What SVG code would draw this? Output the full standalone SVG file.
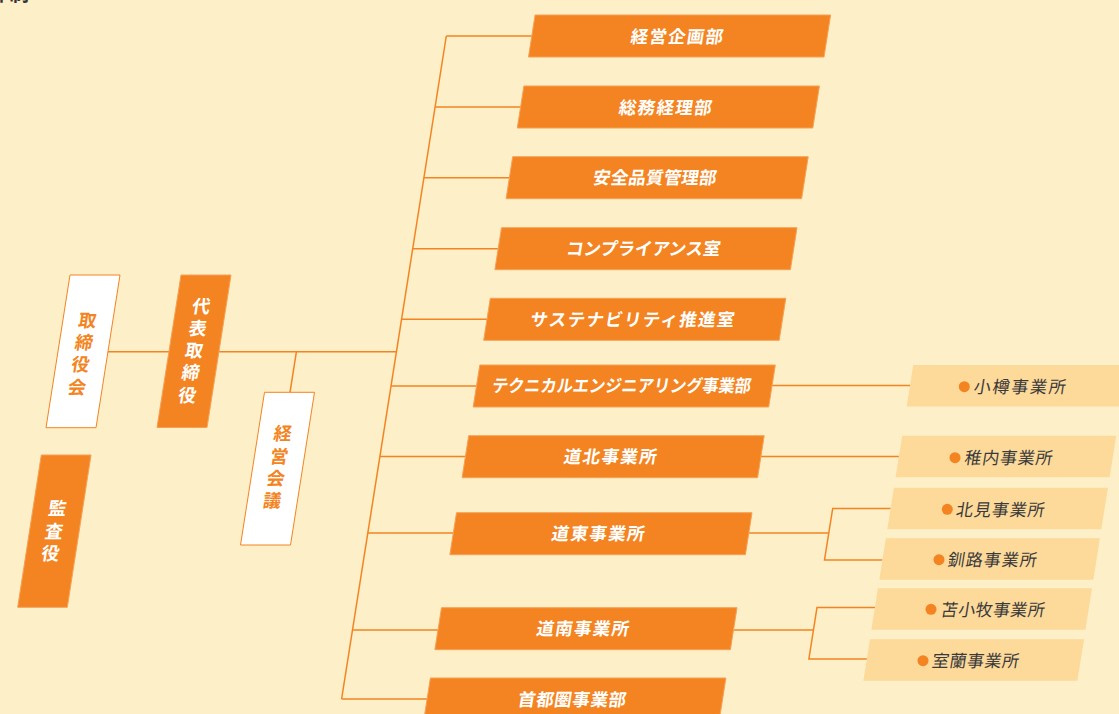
<svg xmlns="http://www.w3.org/2000/svg" width="1119" height="714" viewBox="0 0 1119 714">
<style>
text{font-family:"Noto Sans CJK JP","Noto Sans CJK SC",sans-serif}
.bg{fill:#FDEFC8}
.ob{fill:#F38421;stroke:#F6A155;stroke-width:1}
.wb{fill:#FFFFFF;stroke:#F38421;stroke-width:1}
.lb{fill:#FDD99A}
.ln{stroke:#F38421;stroke-width:1.5;fill:none}
.tw{fill:#FFFFFF;font-size:17.5px;font-weight:700;text-anchor:middle}
.vw{fill:#FFFFFF;font-size:18px;font-weight:700;text-anchor:middle;writing-mode:vertical-rl;letter-spacing:4.3px}
.vo{fill:#F38421;font-size:18px;font-weight:700;text-anchor:middle;writing-mode:vertical-rl;letter-spacing:4.3px}
.td{fill:#3A3A3A;font-size:17px}
.dot{fill:#F38421}
</style>
<rect class="bg" x="0" y="0" width="1119" height="714"/>
<text x="-11" y="1" style="font-size:20px;font-weight:700;fill:#333">体制</text>

<g id="connectors">
<line class="ln" x1="446.3" y1="36" x2="341.6" y2="699"/>
<line class="ln" x1="446.3" y1="36" x2="531.8" y2="36"/>
<line class="ln" x1="435.1" y1="107" x2="520.6" y2="107"/>
<line class="ln" x1="423.9" y1="177.7" x2="509.4" y2="177.7"/>
<line class="ln" x1="412.7" y1="248.7" x2="498.2" y2="248.7"/>
<line class="ln" x1="401.5" y1="319.3" x2="487" y2="319.3"/>
<line class="ln" x1="391" y1="386" x2="476.5" y2="386"/>
<line class="ln" x1="379.9" y1="456.5" x2="465.4" y2="456.5"/>
<line class="ln" x1="367.8" y1="533" x2="453.3" y2="533"/>
<line class="ln" x1="352.5" y1="630" x2="438" y2="630"/>
<line class="ln" x1="341.6" y1="699" x2="427.1" y2="699"/>
<line class="ln" x1="108" y1="351.7" x2="169" y2="351.7"/>
<line class="ln" x1="219" y1="351.7" x2="396.4" y2="351.7"/>
<line class="ln" x1="296.4" y1="351.7" x2="290" y2="392.3"/>
<line class="ln" x1="772" y1="385.5" x2="910.1" y2="385.5"/>
<line class="ln" x1="760.9" y1="456.5" x2="898.9" y2="456.5"/>
<line class="ln" x1="748.8" y1="533" x2="828.8" y2="533"/>
<polyline class="ln" points="890.7,508.5 832.7,508.5 824.5,560 882.5,560"/>
<line class="ln" x1="733.5" y1="630" x2="813.5" y2="630"/>
<polyline class="ln" points="875,607.5 817,607.5 808.9,659 866.9,659"/>
</g>

<g id="torishimariyakukai">
<polygon class="wb" points="70,275 120,275 96,427.7 46,427.7"/>
<text class="vo" transform="translate(82,355.5) skewX(-9)" x="0" y="0">取締役会</text>
</g>
<g id="daihyo">
<polygon class="ob" points="181,275 231,275 207,427.5 157,427.5"/>
<text class="vw" transform="translate(194,352.5) skewX(-9)" x="0" y="0">代表取締役</text>
</g>
<g id="keiei-kaigi">
<polygon class="wb" points="264.5,392.3 314.5,392.3 290.5,545 240.5,545"/>
<text class="vo" transform="translate(277.3,469.2) skewX(-9)" x="0" y="0">経営会議</text>
</g>
<g id="kansayaku">
<polygon class="ob" points="41.3,455 91,455 67.3,607.3 17.7,607.3"/>
<text class="vw" transform="translate(53.8,533) skewX(-9)" x="0" y="0">監査役</text>
</g>

<g id="keiei-kikaku">
<polygon class="ob" points="535.1,15 830.6,15 824,57 528.5,57"/>
<text class="tw" transform="translate(677,36.5) skewX(-9)" x="0" y="6.5" textLength="92.5" lengthAdjust="spacing">経営企画部</text>
</g>
<g id="somu-keiri">
<polygon class="ob" points="523.9,86 819.4,86 812.8,128 517.3,128"/>
<text class="tw" transform="translate(665.5,107) skewX(-9)" x="0" y="6.5" textLength="93" lengthAdjust="spacing">総務経理部</text>
</g>
<g id="anzen">
<polygon class="ob" points="512.7,156.7 808.2,156.7 801.6,198.7 506.1,198.7"/>
<text class="tw" transform="translate(655,177.7) skewX(-9)" x="0" y="6.5" textLength="123.5" lengthAdjust="spacing">安全品質管理部</text>
</g>
<g id="compliance">
<polygon class="ob" points="501.5,227.7 797,227.7 790.4,269.7 494.9,269.7"/>
<text class="tw" transform="translate(643.5,248.5) skewX(-9)" x="0" y="6.5" textLength="154" lengthAdjust="spacingAndGlyphs">コンプライアンス室</text>
</g>
<g id="sustainability">
<polygon class="ob" points="490.3,298.3 785.8,298.3 779.2,340.3 483.7,340.3"/>
<text class="tw" transform="translate(632.5,319.3) skewX(-9)" x="0" y="6.5" textLength="204" lengthAdjust="spacing">サステナビリティ推進室</text>
</g>
<g id="technical">
<polygon class="ob" points="479.8,365 775.3,365 768.7,407 473.2,407"/>
<text class="tw" transform="translate(621.7,385.8) skewX(-9)" x="0" y="6.5" textLength="259" lengthAdjust="spacingAndGlyphs">テクニカルエンジニアリング事業部</text>
</g>
<g id="dohoku">
<polygon class="ob" points="468.7,435.7 764.2,435.7 757.6,477.7 462.1,477.7"/>
<text class="tw" transform="translate(610.5,456.5) skewX(-9)" x="0" y="6.5" textLength="93" lengthAdjust="spacing">道北事業所</text>
</g>
<g id="doto">
<polygon class="ob" points="456.5,512.7 752,512.7 745.4,554.7 449.9,554.7"/>
<text class="tw" transform="translate(598.3,533.5) skewX(-9)" x="0" y="6.5" textLength="93" lengthAdjust="spacing">道東事業所</text>
</g>
<g id="donan">
<polygon class="ob" points="441.5,607.7 737,607.7 730.4,649.7 434.9,649.7"/>
<text class="tw" transform="translate(583,628.5) skewX(-9)" x="0" y="6.5" textLength="92.5" lengthAdjust="spacing">道南事業所</text>
</g>
<g id="shutoken">
<polygon class="ob" points="430.4,678 725.9,678 719.3,720 423.8,720"/>
<text class="tw" transform="translate(572.3,699.5) skewX(-9)" x="0" y="6.5" textLength="108" lengthAdjust="spacing">首都圏事業部</text>
</g>

<g id="otaru">
<polygon class="lb" points="913.3,365 1127.3,365 1120.7,406.5 906.7,406.5"/>
<circle class="dot" cx="964.3" cy="386.7" r="5.5"/>
<text class="td" transform="translate(975,386.7) skewX(-9)" x="-1" y="6.3" textLength="92" lengthAdjust="spacing">小樽事業所</text>
</g>
<g id="wakkanai">
<polygon class="lb" points="902.2,435.7 1116.2,435.7 1109.6,477.2 895.6,477.2"/>
<circle class="dot" cx="955" cy="457.7" r="5.5"/>
<text class="td" transform="translate(965.7,457.7) skewX(-9)" x="-1" y="6.3" textLength="88" lengthAdjust="spacing">稚内事業所</text>
</g>
<g id="kitami">
<polygon class="lb" points="893.9,487.7 1107.9,487.7 1101.3,529.2 887.3,529.2"/>
<circle class="dot" cx="947.3" cy="509.3" r="5.5"/>
<text class="td" transform="translate(957.3,509.3) skewX(-9)" x="-1" y="6.3" textLength="88.5" lengthAdjust="spacing">北見事業所</text>
</g>
<g id="kushiro">
<polygon class="lb" points="885.9,538.3 1099.9,538.3 1093.3,579.8 879.3,579.8"/>
<circle class="dot" cx="939" cy="559.7" r="5.5"/>
<text class="td" transform="translate(949,559.7) skewX(-9)" x="-1" y="6.3" textLength="89" lengthAdjust="spacing">釧路事業所</text>
</g>
<g id="tomakomai">
<polygon class="lb" points="878,588.3 1092,588.3 1085.4,629.8 871.4,629.8"/>
<circle class="dot" cx="931" cy="609.3" r="5.5"/>
<text class="td" transform="translate(942,609.3) skewX(-9)" x="-1" y="6.3" textLength="104" lengthAdjust="spacing">苫小牧事業所</text>
</g>
<g id="muroran">
<polygon class="lb" points="870,639.3 1084,639.3 1077.4,680.8 863.4,680.8"/>
<circle class="dot" cx="923" cy="660.7" r="5.5"/>
<text class="td" transform="translate(933.3,660.7) skewX(-9)" x="-1" y="6.3" textLength="87" lengthAdjust="spacing">室蘭事業所</text>
</g>
</svg>
